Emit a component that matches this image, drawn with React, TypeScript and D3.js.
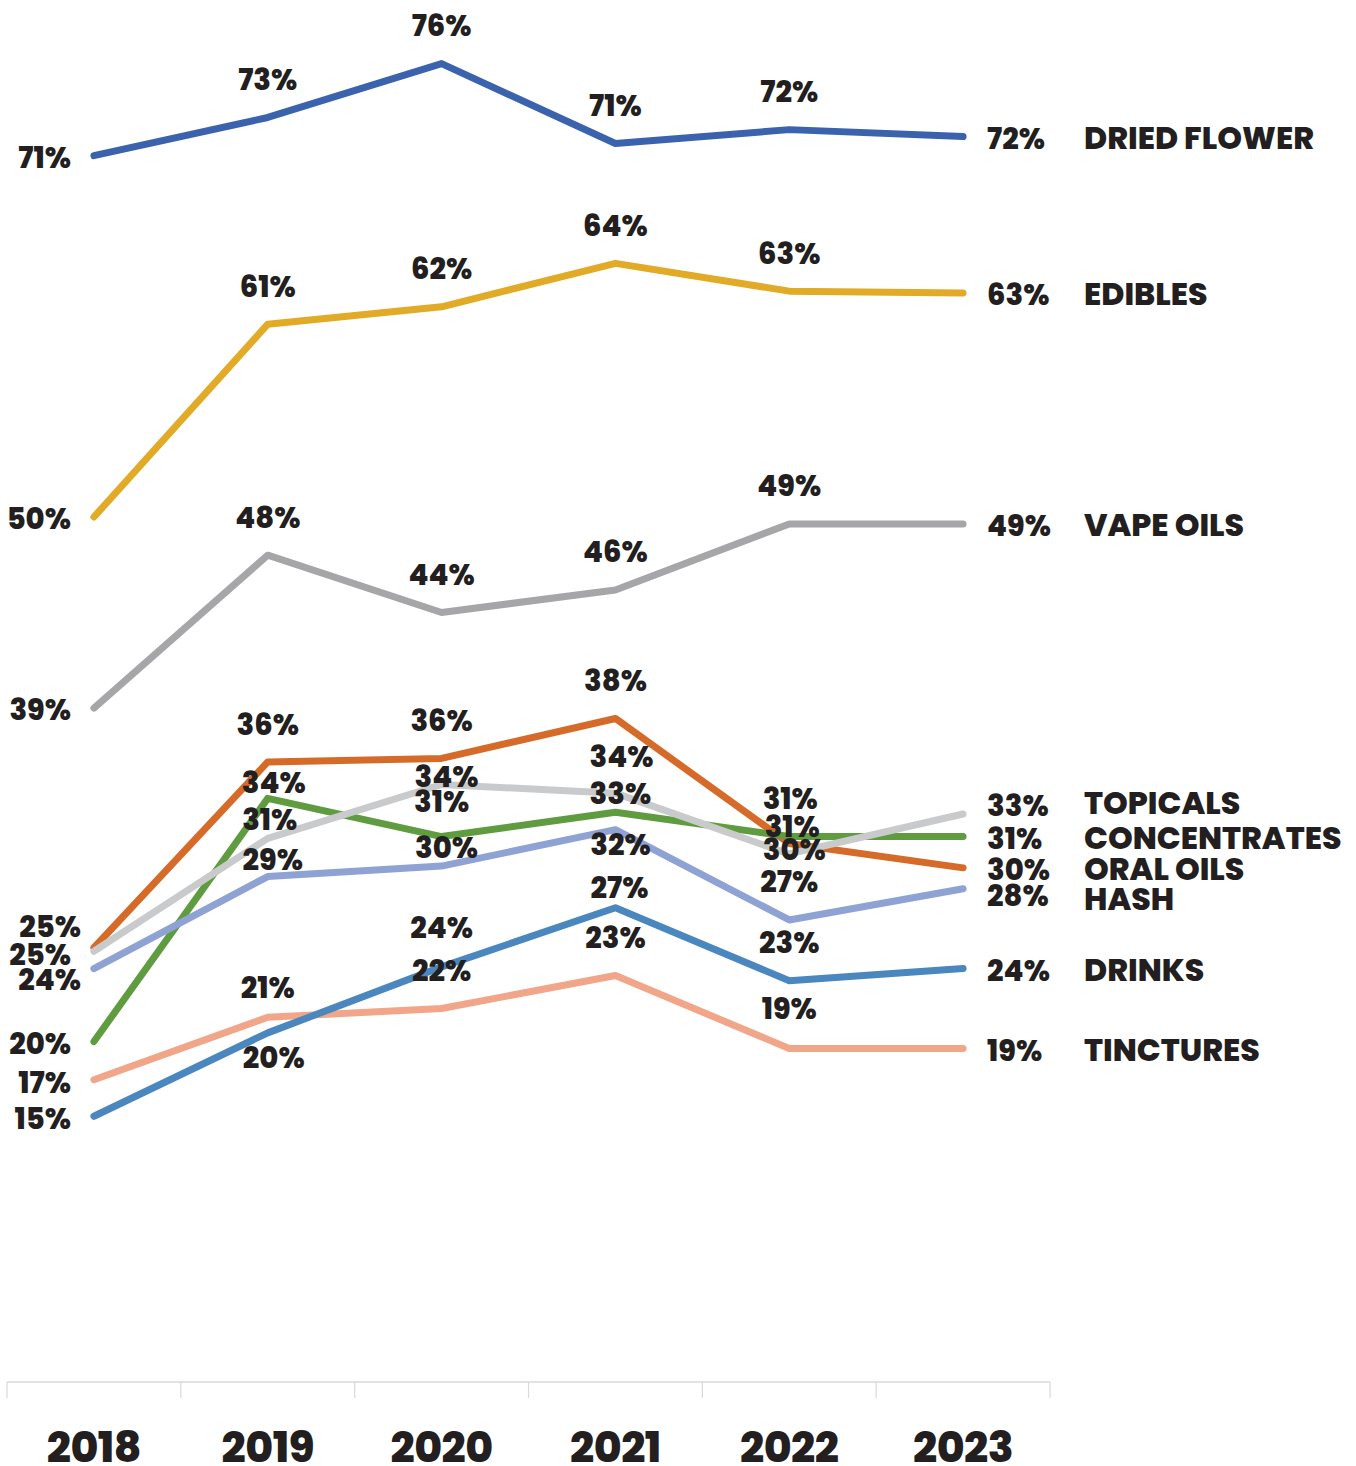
import React from 'react';
import * as d3 from 'd3';

const YEARS = ['2018', '2019', '2020', '2021', '2022', '2023'];

const SERIES_KEYS = ['flower', 'edibles', 'vape', 'oral', 'conc', 'hash', 'tinct', 'drinks', 'topicals'];
const SERIES_NAMES: Record<string, string> = {
  flower: 'DRIED FLOWER',
  edibles: 'EDIBLES',
  vape: 'VAPE OILS',
  oral: 'ORAL OILS',
  conc: 'CONCENTRATES',
  hash: 'HASH',
  tinct: 'TINCTURES',
  drinks: 'DRINKS',
  topicals: 'TOPICALS',
};

const driedFlower = [70.6, 72.8, 75.9, 71.3, 72.1, 71.7];
const edibles = [49.8, 60.9, 61.9, 64.4, 62.8, 62.7];
const vapeOils = [38.8, 47.6, 44.3, 45.6, 49.4, 49.4];
const oralOils = [25.0, 35.7, 35.9, 38.2, 31.0, 29.6];
const concentrates = [19.6, 33.6, 31.4, 32.8, 31.4, 31.4];
const topicals = [24.8, 31.3, 34.4, 33.9, 30.4, 32.7];
const hash = [23.8, 29.1, 29.7, 31.8, 26.6, 28.4];
const drinks = [15.3, 20.1, 23.9, 27.3, 23.1, 23.8];
const tinctures = [17.4, 21.0, 21.5, 23.4, 19.2, 19.2];

const SERIES_VALUES: Record<string, number[]> = {
  flower: driedFlower,
  edibles,
  vape: vapeOils,
  oral: oralOils,
  conc: concentrates,
  hash,
  tinct: tinctures,
  drinks,
  topicals,
};

const COLORS: Record<string, string> = {
  flower: '#3b63ad',
  edibles: '#e1ab27',
  vape: '#a6a6a9',
  oral: '#d66b29',
  conc: '#5f9c40',
  hash: '#8fa2d4',
  tinct: '#f2a689',
  drinks: '#4a87bf',
  topicals: '#c9cacb',
};

// label nudges [dx, dy] relative to the data point (style only)
const LABEL_NUDGE: Record<string, [number, number]> = {
  'oral-0': [-13, -21],
  'topicals-0': [-23, 3],
  'hash-0': [-13, 11],
  'tinct-0': [-23, 3],
  'conc-1': [6, -16],
  'topicals-1': [2, -19],
  'hash-1': [5, -17],
  'tinct-1': [0, -30],
  'drinks-1': [6, 25],
  'oral-1': [0, -37],
  'topicals-2': [5, -8],
  'conc-2': [0, -35],
  'hash-2': [5, -19],
  'drinks-2': [0, -39],
  'topicals-3': [6, -37],
  'conc-3': [5, -19],
  'hash-3': [5, 15],
  'drinks-3': [4, -20],
  'oral-4': [1, -45],
  'conc-4': [3, -10],
  'topicals-4': [5, -4],
  'tinct-4': [0, -40],
  'topicals-5': [24, -8],
  'hash-5': [24, 7],
};

const NAME_NUDGE: Record<string, number> = {
  topicals: -11,
  hash: 10,
};

const W = 1356;
const H = 1466;
const FONT = "Poppins, Inter, 'Open Sans', sans-serif";
const TEXT = '#231f20';

export default function App() {
  const x = d3.scaleBand<string>().domain(YEARS).range([7, 1050]);
  const y = d3.scaleLinear().domain([0, 80]).range([1382, 1382 - 80 * 17.37]);
  const cx = (yr: string) => (x(yr) as number) + x.bandwidth() / 2;
  const line = d3
    .line<number>()
    .x((_, i) => cx(YEARS[i]))
    .y((v) => y(v));

  const tickXs = [...YEARS.map((yr) => x(yr) as number), 1050];
  const last = YEARS.length - 1;

  return (
    <svg
      width={W}
      height={H}
      style={{ position: 'absolute', left: 0, top: 0, background: '#fff' }}
      fontFamily={FONT}
    >
      <rect width={W} height={H} fill="#fff" />
      {/* axis */}
      <line x1={7} x2={1050} y1={1382} y2={1382} stroke="#d9d9d9" strokeWidth={1.5} />
      {tickXs.map((tx, i) => (
        <line key={i} x1={tx} x2={tx} y1={1382} y2={1398} stroke="#d9d9d9" strokeWidth={1.2} />
      ))}
      {YEARS.map((yr) => (
        <text
          key={yr}
          x={cx(yr)}
          y={1462}
          textAnchor="middle"
          fontSize={42.5}
          fontWeight={800}
          fill={TEXT}
          letterSpacing={-0.5}
        >
          {yr}
        </text>
      ))}
      {/* lines */}
      {SERIES_KEYS.map((k) => (
        <path
          key={k}
          d={line(SERIES_VALUES[k]) || ''}
          fill="none"
          stroke={COLORS[k]}
          strokeWidth={7}
          strokeLinecap="round"
          strokeLinejoin="round"
        />
      ))}
      {/* data labels */}
      {SERIES_KEYS.map((k) =>
        SERIES_VALUES[k].map((v, i) => {
          const key = `${k}-${i}`;
          let dx = 0;
          let dy = -38;
          let anchor: 'start' | 'middle' | 'end' = 'middle';
          if (i === 0) {
            dx = -23;
            dy = 2;
            anchor = 'end';
          } else if (i === last) {
            dx = 24;
            dy = 2;
            anchor = 'start';
          }
          if (LABEL_NUDGE[key]) {
            [dx, dy] = LABEL_NUDGE[key];
          }
          return (
            <text
              key={key}
              x={cx(YEARS[i]) + dx}
              y={y(v) + dy}
              dy="0.36em"
              textAnchor={anchor}
              fontSize={29}
              fontWeight={800}
              fill={TEXT}
            >
              {Math.round(v)}%
            </text>
          );
        })
      )}
      {/* series names */}
      {SERIES_KEYS.map((k) => (
        <text
          key={`n-${k}`}
          x={1084}
          y={y(SERIES_VALUES[k][last]) + (NAME_NUDGE[k] ?? 1)}
          dy="0.36em"
          fontSize={31.5}
          fontWeight={800}
          fill={TEXT}
        >
          {SERIES_NAMES[k]}
        </text>
      ))}
    </svg>
  );
}
